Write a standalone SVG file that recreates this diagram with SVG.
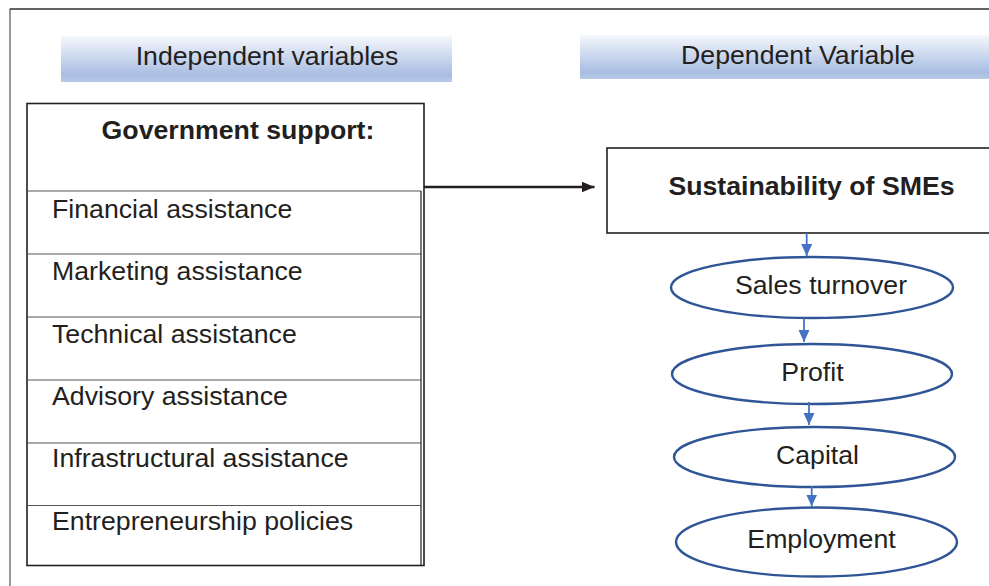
<svg xmlns="http://www.w3.org/2000/svg" width="989" height="586" viewBox="0 0 989 586">
  <defs>
    <linearGradient id="band" x1="0" y1="0" x2="0" y2="1">
      <stop offset="0" stop-color="#f5f7fc"/>
      <stop offset="0.85" stop-color="#a8bde2"/>
      <stop offset="1" stop-color="#b9cae8"/>
    </linearGradient>
    <marker id="headBlack" viewBox="0 0 13 12" refX="13" refY="6" markerWidth="13" markerHeight="12" markerUnits="userSpaceOnUse" orient="auto">
      <path d="M0,0.5 L13,6 L0,11.5 Z" fill="#231f20"/>
    </marker>
    <marker id="headBlue" viewBox="0 0 12 12" refX="12" refY="6" markerWidth="12" markerHeight="12" markerUnits="userSpaceOnUse" orient="auto">
      <path d="M0,0.5 L12,6 L0,11.5 Z" fill="#4472c4"/>
    </marker>
  </defs>
  <style>
    text { font-family: "Liberation Sans", Arial, sans-serif; font-size: 26.7px; fill: #231f20; }
    .bold { font-weight: bold; }
    .mid { text-anchor: middle; }
    .frame { fill: none; stroke: #555; stroke-width: 1.2; }
    .box { fill: #fff; stroke: #231f20; stroke-width: 1.6; }
    .row { fill: none; stroke: #555; stroke-width: 1.1; }
    .oval { fill: #fff; stroke: #2f5597; stroke-width: 2.4; }
    .link { fill: none; stroke: #231f20; stroke-width: 2.4; }
    .blue { fill: none; stroke: #4472c4; stroke-width: 1.8; }
  </style>

  <rect width="989" height="586" fill="#fff"/>

  <!-- outer frame (top and left edges) -->
  <path class="frame" d="M10,586 V9 H989"/>
  <path d="M10,9 H989" stroke="#231f20" stroke-width="1.2"/>

  <!-- column headings -->
  <g id="heading-independent">
    <rect x="61" y="36" width="391" height="46" fill="url(#band)"/>
    <text class="mid" x="267" y="65">Independent variables</text>
  </g>
  <g id="heading-dependent">
    <rect x="580" y="35" width="409" height="44" fill="url(#band)"/>
    <text class="mid" x="798" y="64">Dependent Variable</text>
  </g>

  <!-- government support table -->
  <g id="government-support">
    <rect class="box" x="27" y="103.5" width="397" height="462"/>
    <text class="bold mid" x="238" y="139">Government support:</text>
    <path class="row" d="M27,191 H421 M27,254 H421 M27,317 H421 M27,380 H421 M27,443 H421 M27,505.5 H421"/>
    <path d="M421,191 V565.5" stroke="#231f20" stroke-width="1.2"/>
    <text x="52" y="218">Financial assistance</text>
    <text x="52" y="280">Marketing assistance</text>
    <text x="52" y="343">Technical assistance</text>
    <text x="52" y="405">Advisory assistance</text>
    <text x="52" y="467">Infrastructural assistance</text>
    <text x="52" y="530">Entrepreneurship policies</text>
  </g>

  <!-- sustainability box -->
  <g id="sustainability">
    <rect class="box" x="607" y="148" width="390" height="85"/>
    <text class="bold mid" x="811.5" y="195">Sustainability of SMEs</text>
  </g>

  <!-- indicators -->
  <g id="sales-turnover">
    <ellipse class="oval" cx="812" cy="287.5" rx="141" ry="30.5"/>
    <text class="mid" x="821" y="294">Sales turnover</text>
  </g>
  <g id="profit">
    <ellipse class="oval" cx="812" cy="374" rx="140" ry="30"/>
    <text class="mid" x="812.5" y="381">Profit</text>
  </g>
  <g id="capital">
    <ellipse class="oval" cx="814.5" cy="457" rx="140.5" ry="30"/>
    <text class="mid" x="817.5" y="464">Capital</text>
  </g>
  <g id="employment">
    <ellipse class="oval" cx="816.5" cy="542" rx="140.5" ry="34.5"/>
    <text class="mid" x="821.5" y="548">Employment</text>
  </g>

  <!-- connectors -->
  <g id="connectors">
    <path class="link" d="M424,187 H594.5" marker-end="url(#headBlack)"/>
    <path class="blue" d="M806.7,233 V256" marker-end="url(#headBlue)"/>
    <path class="blue" d="M804,318 V342" marker-end="url(#headBlue)"/>
    <path class="blue" d="M809,402 V425" marker-end="url(#headBlue)"/>
    <path class="blue" d="M811.7,486 V506.5" marker-end="url(#headBlue)"/>
  </g>
</svg>
